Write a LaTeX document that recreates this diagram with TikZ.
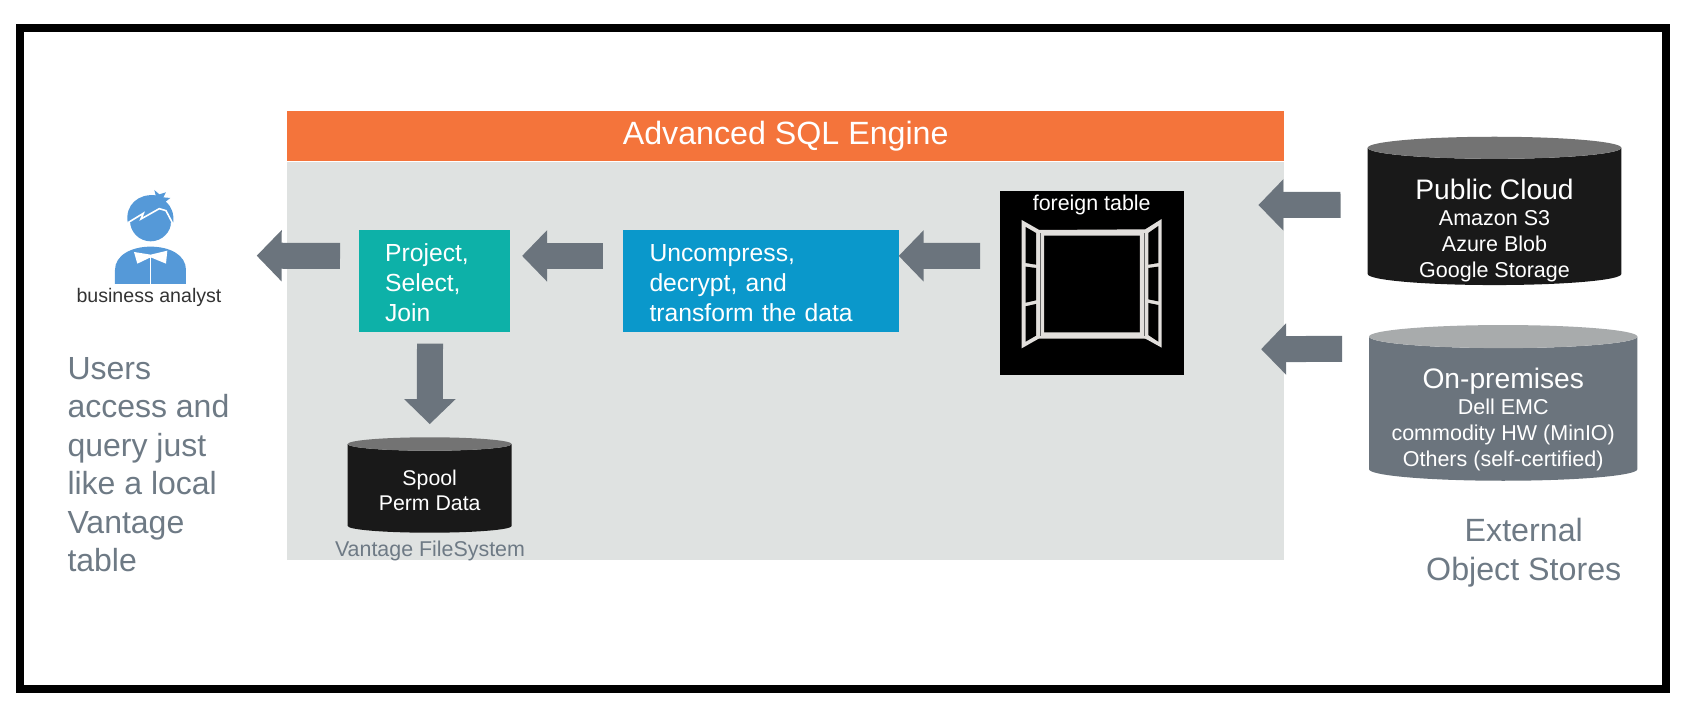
\documentclass[tikz,border=0pt]{standalone}
\usepackage{fontspec}
\setmainfont{Liberation Sans}
\usetikzlibrary{positioning,arrows.meta,shapes.geometric}
\definecolor{arrowgray}{HTML}{6B747D}
\definecolor{textgray}{HTML}{6E7A85}
\definecolor{panelgray}{HTML}{DFE2E1}
\definecolor{sqlorange}{HTML}{F4743B}
\definecolor{joinTeal}{HTML}{0DB1A8}
\definecolor{dataBlue}{HTML}{0A98CB}
\definecolor{userBlue}{HTML}{5599D8}
\definecolor{sashgray}{HTML}{E2DFDC}
\newcommand{\fsize}[2]{\fontsize{#1}{#2}\selectfont}
\begin{document}
\begin{tikzpicture}[x=1pt,y=-1pt]
 	\tikzstyle{connect}=[-{Triangle[length=25pt,width=50pt]}, line width=26pt, draw=arrowgray]
 	\tikzstyle{stepbox}=[rectangle, anchor=north west, inner ysep=0pt, inner xsep=26.6pt, text=white, align=left, font=\fsize{24.7}{30}]
 	\tikzstyle{store}=[cylinder, shape border rotate=90, cylinder uses custom fill, inner sep=0pt, anchor=shape center]
 	\tikzstyle{blackstore}=[store, cylinder body fill=black!90, cylinder end fill=black!55]
 	\tikzstyle{graystore}=[store, cylinder body fill=arrowgray, cylinder end fill=black!20!panelgray!85!arrowgray]
 	\tikzstyle{storetext}=[text=white, align=center, inner sep=0pt, font=\fsize{21.5}{26}]
 	\tikzstyle{note}=[anchor=north west, inner sep=0pt, text=textgray, align=left]
 	\useasboundingbox (0,0) rectangle (1683,708);
 	\draw[line width=8pt] (20.3,28.5) rectangle (1665.5,688.8);
 	\node[rectangle, anchor=north west, inner sep=0pt, minimum width=997pt, minimum height=398.5pt, fill=panelgray] (panel) at (287,161.5) {};
 	\node[rectangle, anchor=north west, inner sep=0pt, minimum width=997pt, minimum height=49.5pt, fill=sqlorange, text=white, font=\fsize{32.2}{34}] (engine) at (287,111) {\raisebox{-1.5pt}{Advanced SQL Engine}};
 	\node[stepbox, fill=joinTeal, minimum height=102pt, text width=98.5pt] (project) at (358.3,230) {\rule{0pt}{21pt}Project,\\Select,\\Join};
 	\node[stepbox, fill=dataBlue, minimum height=102pt, text width=223.1pt] (transform) at (622.7,230) {\rule{0pt}{21pt}Uncompress,\\decrypt, and\\transform the data};
 	\node[rectangle, anchor=north west, inner sep=0pt, minimum width=183.7pt, minimum height=183.7pt, fill=black] (table) at (1000,191.3) {};
 	\node[anchor=base, inner sep=0pt, text=white, font=\fsize{21.4}{24}] (tabletitle) at (1091.7,210.7) {foreign table};
 	\node[blackstore, minimum width=253.6pt, minimum height=148.3pt, shape aspect=0.087] (cloud) at (1494.5,210.9) [label={[storetext,yshift=-13.8pt]center:{{\fsize{28.2}{30}Public Cloud}\\Amazon S3\\Azure Blob\\Google Storage}}] {\hspace*{253.6pt}};
 	\node[graystore, minimum width=268.3pt, minimum height=155.7pt, shape aspect=0.086] (premises) at (1503.2,402.9) [label={[storetext,yshift=-10.6pt]center:{{\fsize{28.2}{30}On-premises}\\Dell EMC\\commodity HW (MinIO)\\Others (self-certified)}}] {\hspace*{268.3pt}};
 	\node[blackstore, minimum width=164pt, minimum height=95.4pt, shape aspect=0.082] (spool) at (429.7,485) [label={[storetext,font=\fsize{21.3}{25},yshift=-1.5pt]center:{Spool\\Perm Data}}] {\hspace*{164pt}};
 	\node[anchor=base, inner sep=0pt, text=textgray, font=\fsize{21.4}{26}] (vantage) at (430,556.7) {Vantage FileSystem};
 	\node[anchor=base, inner sep=0pt, text=black!80, font=\fsize{19.6}{22}] (analyst) at (149,302.5) {business analyst};
 	\node[note, font=\fsize{32}{38.5}] (users) at (67.3,357) {Users\\access and\\query just\\like a local\\Vantage\\table};
 	\node[note, align=center, font=\fsize{32.2}{38.5}] (external) at (1426,518) {External\\Object Stores};
 	\coordinate (analystin) at (256.7,255.7);
 	\draw[connect, shorten <=18.3pt] ([yshift=25.3pt]project.west) -- (analystin);
 	\draw[connect, shorten <=19.7pt, shorten >=11.7pt] ([yshift=25.3pt]transform.west) -- ([yshift=25.3pt]project.east);
 	\draw[connect, shorten <=20pt, shorten >=-0.7pt] ([yshift=27.4pt]table.west) -- ([yshift=25.3pt]transform.east);
 	\draw[connect, shorten <=27pt, shorten >=74.3pt] ([yshift=11.7pt]cloud.west) -- ([yshift=78.2pt]table.east);
 	\draw[connect, shorten <=26.7pt, shorten >=77pt] ([yshift=60pt]premises.west) -- ([yshift=-66.1pt]table.east);
 	\draw[connect, shorten <=11.3pt, shorten >=13pt] ([xshift=-4.3pt]project.south) -- (spool.north);
 	\begin{scope}[shift={(60,160)},x=0.3333pt,y=-0.3333pt]
 		\fill[userBlue] (272,182) circle (62);
 		\fill[userBlue] (203,187) .. controls (195,135) and (235,100) .. (287,106) -- (283,90) -- (298,103) -- (318,97) -- (310,112) -- (331,114) -- (317,125) .. controls (335,140) and (342,160) .. (340,187) -- cycle;
 		\draw[white, line width=1.6pt] (204,188) -- (250,160) -- (243,177) -- (298,146) -- (318,152) -- (338,190);
 		\fill[white] (198,190) -- (204,188) -- (210,187) -- (208,200) -- (198,200) -- cycle;
 		\fill[white] (338,190) -- (332,190) -- (333,200) -- (345,200) -- cycle;
 		\fill[userBlue] (165,372) -- (165,330) .. controls (165,285) and (215,260) .. (272,260) .. controls (330,260) and (378,285) .. (378,330) -- (378,372) -- cycle;
 		\draw[white, line width=1.5pt] (272,290) -- (272,372);
 		\fill[white] (222,276) -- (272,284) -- (322,272) -- (318,311) -- (272,292) -- (232,311) -- cycle;
 	\end{scope}
 	\begin{scope}[shift={(960,170)},x=0.3333pt,y=-0.3333pt]
 		\fill[sashgray] (237,180) -- (555,178) -- (540,197) -- (252,197) -- cycle;
 		\fill[sashgray] (252,487) -- (540,487) -- (558,506) -- (237,506) -- cycle;
 		\fill[sashgray] (185,150) -- (252,188) -- (252,497) -- (185,535) -- cycle;
 		\fill[sashgray] (605,147) -- (540,188) -- (540,497) -- (605,533) -- cycle;
 		\fill[black] (197,171) -- (228,189) -- (228,284) -- (197,279) -- cycle;
 		\fill[black] (197,290) -- (228,294) -- (228,391) -- (197,398) -- cycle;
 		\fill[black] (197,409) -- (228,402) -- (228,497) -- (197,515) -- cycle;
 		\fill[black] (595,168) -- (565,189) -- (565,284) -- (595,279) -- cycle;
 		\fill[black] (595,290) -- (565,294) -- (565,388) -- (595,394) -- cycle;
 		\fill[black] (595,405) -- (565,399) -- (565,495) -- (595,515) -- cycle;
 		\draw[black!60, line width=0.7pt] (240,190) -- (240,497) (553,190) -- (553,497);
 	\end{scope}
\end{tikzpicture}
\end{document}
